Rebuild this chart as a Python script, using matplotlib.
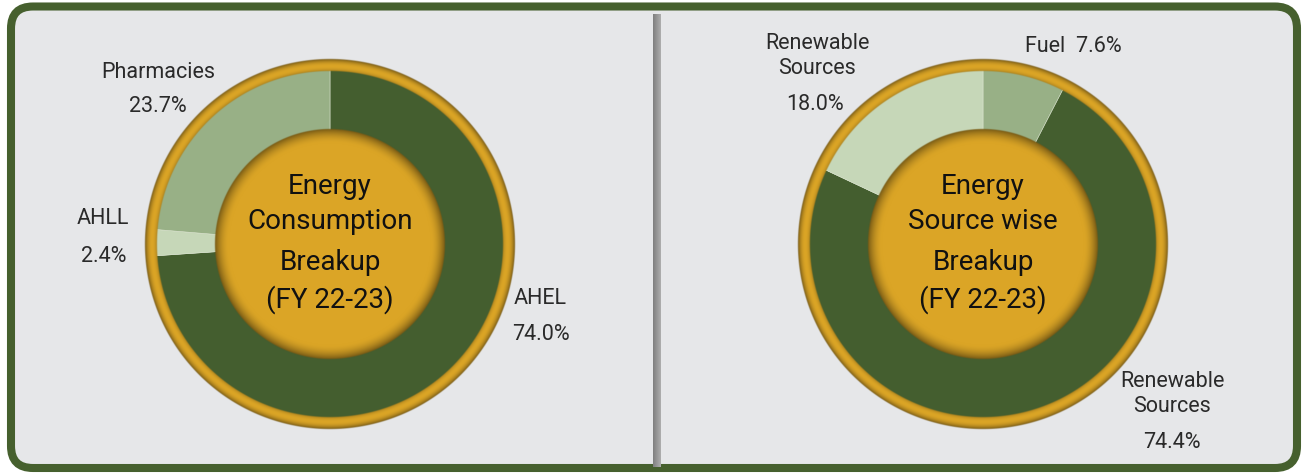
import numpy as np
import matplotlib
matplotlib.use('Agg')
import matplotlib.pyplot as plt
from matplotlib.patches import FancyBboxPatch

plt.rcParams['font.family'] = ['Roboto', 'DejaVu Sans']

# 能源消耗 / 來源資料 (FY 22-23)
consumption_labels = ['AHEL', 'AHLL', 'Pharmacies']
consumption_values = [74.0, 2.4, 23.7]
source_labels = ['Fuel', 'Renewable\nSources', 'Renewable\nSources']
source_values = [7.6, 74.4, 18.0]
center_titles = [['Energy', 'Consumption', 'Breakup', '(FY 22-23)'],
                 ['Energy', 'Source wise', 'Breakup', '(FY 22-23)']]

DARK = '#445e2f'
MID = '#98b086'
LIGHT = '#c6d7b8'
GOLD = np.array([219, 165, 38]) / 255.0
BG = '#e6e7e9'
BORDER = '#46602e'

W, H = 1306, 477
fig = plt.figure(figsize=(W / 100, H / 100), dpi=100)
fig.patch.set_facecolor('white')
ax = fig.add_axes([0, 0, 1, 1])


def gold_layers(cx, cy, r_disc=115, r_in=173, r_out=185):
    # 外圈金環與中心金色圓盤的漸層
    s = 2
    n = (r_out + 4) * 2 * s
    xs = (np.arange(n) + 0.5) / s - (r_out + 4)
    xx, yy = np.meshgrid(xs, xs)
    r = np.hypot(xx, yy)
    # 金環：外緣較暗
    t = np.clip((r - r_in) / (r_out - r_in), 0, 1)
    ring_f = np.where(t > 0.4, 1 - 0.45 * ((t - 0.4) / 0.6) ** 2,
                      1 - 0.2 * ((0.4 - t) / 0.4) ** 2)
    # 圓盤：邊緣陰影
    d = np.clip((r - (r_disc - 14)) / 14, 0, 1)
    disc_f = 1 - 0.45 * d ** 1.8
    f = np.where(r < (r_disc + r_in) / 2, disc_f, ring_f)
    rgb = GOLD[None, None, :] * f[..., None]
    a_disc = np.clip(r_disc + 0.5 - r, 0, 1)
    a_ring = np.clip(r - (r_in - 0.5), 0, 1) * np.clip(r_out + 0.5 - r, 0, 1)
    alpha = np.maximum(a_disc, a_ring)
    img = np.dstack([rgb, alpha[..., None]])
    ext = [cx - (r_out + 4), cx + (r_out + 4), cy - (r_out + 4), cy + (r_out + 4)]
    ax.imshow(img, extent=ext, origin='lower', zorder=3, interpolation='bilinear')


# 外框
box = FancyBboxPatch((11, 8), 1286, 461.5,
                     boxstyle='round,pad=0,rounding_size=22',
                     facecolor=BG, edgecolor=BORDER, linewidth=5.8, zorder=0)
ax.add_patch(box)

# 中間分隔線
grad = np.linspace(0.50, 0.68, 20)[None, :]
ax.imshow(np.dstack([grad, grad, grad]), extent=[653, 661, 9, 462],
          origin='lower', aspect='auto', zorder=1)

centers = [(330, 232), (983, 232)]

ax.pie(consumption_values, colors=[DARK, LIGHT, MID], startangle=90,
       counterclock=False, center=centers[0], radius=176,
       wedgeprops=dict(width=64, edgecolor='#d8e2cc', linewidth=0.4))
ax.pie(source_values, colors=[MID, DARK, LIGHT], startangle=90,
       counterclock=False, center=centers[1], radius=176,
       wedgeprops=dict(width=64, edgecolor='#d8e2cc', linewidth=0.4))

for c in centers:
    gold_layers(*c)

# 中心標題
line_y = [291, 255, 215, 177]
for c, lines in zip(centers, center_titles):
    for txt, y in zip(lines, line_y):
        ax.text(c[0], y, txt, ha='center', va='center', fontsize=20,
                fontweight='normal', color='#111111', zorder=5)

lab_kw = dict(ha='center', va='center', fontsize=15.5, fontweight='normal',
              color='#2a2a2a', zorder=5)

# 左圖標籤
ax.text(158, H - 72, consumption_labels[2], **lab_kw)
ax.text(158, H - 107, f'{consumption_values[2]:.1f}%', **lab_kw)
ax.text(103, H - 218, consumption_labels[1], **lab_kw)
ax.text(104, H - 256, f'{consumption_values[1]:.1f}%', **lab_kw)
ax.text(540, H - 298, consumption_labels[0], **lab_kw)
ax.text(541, H - 334, f'{consumption_values[0]:.1f}%', **lab_kw)

# 右圖標籤
ax.text(817, H - 56, source_labels[2], linespacing=1.25, **lab_kw)
ax.text(815, H - 105, f'{source_values[2]:.1f}%', **lab_kw)
ax.text(1073, H - 46, f'{source_labels[0]}  {source_values[0]:.1f}%', **lab_kw)
ax.text(1172, H - 394, source_labels[1], linespacing=1.25, **lab_kw)
ax.text(1172, H - 443, f'{source_values[1]:.1f}%', **lab_kw)

ax.set_xlim(0, W)
ax.set_ylim(0, H)
ax.set_aspect('auto')
ax.axis('off')

fig.savefig('out.png', dpi=100, facecolor='white')
